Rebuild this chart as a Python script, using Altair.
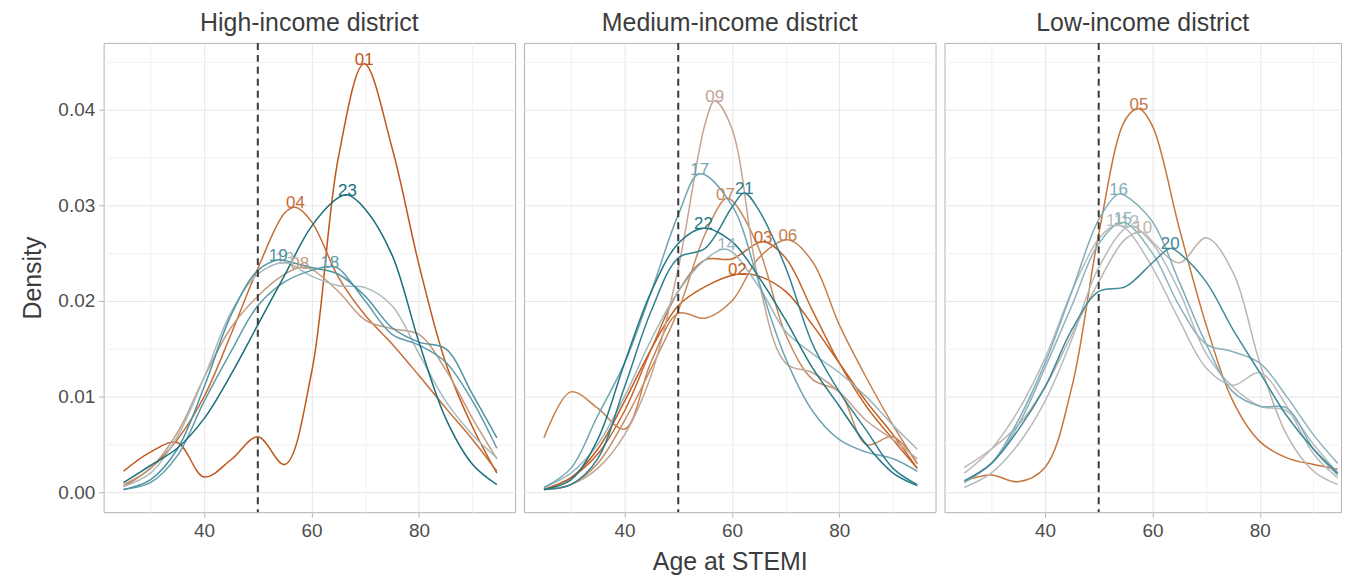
import altair as alt
import pandas as pd

FONT = "Liberation Sans"

# ---------------- data ----------------
AGES = [25, 30, 35, 40, 45, 50, 55, 60, 65, 70, 75, 80, 85, 90, 94.5]

GROUPS = ["High-income district", "Medium-income district", "Low-income district"]
HIGH = ["01", "04", "08", "13", "18", "19", "23"]
MEDIUM = ["02", "03", "06", "07", "09", "14", "17", "21", "22"]
LOW = ["05", "10", "11", "12", "15", "16", "20"]

DISTRICTS = ["01", "02", "03", "04", "05", "06", "07", "08", "09", "10", "11", "12",
             "13", "14", "15", "16", "17", "18", "19", "20", "21", "22", "23"]

# density at each age in AGES
D01 = [0.0022, 0.0042, 0.0052, 0.0016, 0.0034, 0.0058, 0.0029, 0.0125, 0.0350, 0.0448, 0.0360, 0.0238, 0.0135, 0.0068, 0.0020]
D02 = [0.0003, 0.0015, 0.0045, 0.0095, 0.0150, 0.0195, 0.0215, 0.0227, 0.0226, 0.0210, 0.0175, 0.0135, 0.0095, 0.0060, 0.0025]
D03 = [0.0003, 0.0015, 0.0040, 0.0085, 0.0150, 0.0210, 0.0243, 0.0244, 0.0258, 0.0245, 0.0190, 0.0135, 0.0090, 0.0055, 0.0025]
D04 = [0.0006, 0.0025, 0.0055, 0.0100, 0.0165, 0.0234, 0.0292, 0.0283, 0.0225, 0.0185, 0.0155, 0.0122, 0.0088, 0.0055, 0.0022]
D05 = [0.0012, 0.0018, 0.0011, 0.0026, 0.0110, 0.0270, 0.0390, 0.0383, 0.0276, 0.0175, 0.0095, 0.0053, 0.0036, 0.0029, 0.0024]
D06 = [0.0057, 0.0105, 0.0088, 0.0066, 0.0137, 0.0187, 0.0182, 0.0200, 0.0245, 0.0262, 0.0241, 0.0175, 0.0120, 0.0070, 0.0030]
D07 = [0.0003, 0.0008, 0.0030, 0.0075, 0.0130, 0.0190, 0.0270, 0.0305, 0.0255, 0.0165, 0.0118, 0.0105, 0.0050, 0.0058, 0.0030]
D08 = [0.0008, 0.0025, 0.0062, 0.0120, 0.0172, 0.0205, 0.0228, 0.0233, 0.0210, 0.0180, 0.0171, 0.0165, 0.0128, 0.0077, 0.0035]
D09 = [0.0003, 0.0008, 0.0025, 0.0060, 0.0123, 0.0234, 0.0385, 0.0380, 0.0220, 0.0135, 0.0125, 0.0105, 0.0075, 0.0055, 0.0035]
D10 = [0.0026, 0.0045, 0.0070, 0.0110, 0.0165, 0.0220, 0.0265, 0.0262, 0.0240, 0.0266, 0.0230, 0.0135, 0.0060, 0.0022, 0.0008]
D11 = [0.0020, 0.0045, 0.0085, 0.0140, 0.0210, 0.0265, 0.0276, 0.0235, 0.0180, 0.0130, 0.0112, 0.0125, 0.0090, 0.0040, 0.0015]
D12 = [0.0005, 0.0020, 0.0050, 0.0095, 0.0160, 0.0235, 0.0276, 0.0260, 0.0210, 0.0145, 0.0110, 0.0090, 0.0085, 0.0050, 0.0020]
D13 = [0.0006, 0.0020, 0.0058, 0.0120, 0.0188, 0.0228, 0.0240, 0.0226, 0.0216, 0.0214, 0.0195, 0.0145, 0.0095, 0.0060, 0.0036]
D14 = [0.0005, 0.0020, 0.0050, 0.0100, 0.0160, 0.0210, 0.0243, 0.0255, 0.0215, 0.0168, 0.0145, 0.0125, 0.0100, 0.0070, 0.0045]
D15 = [0.0010, 0.0030, 0.0070, 0.0130, 0.0195, 0.0260, 0.0280, 0.0250, 0.0195, 0.0155, 0.0147, 0.0135, 0.0100, 0.0060, 0.0030]
D16 = [0.0012, 0.0030, 0.0075, 0.0135, 0.0210, 0.0285, 0.0310, 0.0283, 0.0220, 0.0155, 0.0105, 0.0090, 0.0088, 0.0045, 0.0018]
D17 = [0.0005, 0.0025, 0.0080, 0.0135, 0.0210, 0.0290, 0.0332, 0.0300, 0.0220, 0.0140, 0.0085, 0.0055, 0.0042, 0.0035, 0.0022]
D18 = [0.0003, 0.0010, 0.0038, 0.0095, 0.0147, 0.0195, 0.0220, 0.0232, 0.0234, 0.0200, 0.0165, 0.0154, 0.0136, 0.0095, 0.0046]
D19 = [0.0003, 0.0013, 0.0045, 0.0110, 0.0185, 0.0232, 0.0242, 0.0235, 0.0228, 0.0205, 0.0172, 0.0157, 0.0150, 0.0102, 0.0057]
D20 = [0.0012, 0.0030, 0.0065, 0.0110, 0.0170, 0.0210, 0.0215, 0.0240, 0.0250, 0.0220, 0.0170, 0.0125, 0.0080, 0.0045, 0.0020]
D21 = [0.0003, 0.0008, 0.0035, 0.0110, 0.0190, 0.0245, 0.0255, 0.0298, 0.0295, 0.0235, 0.0155, 0.0105, 0.0065, 0.0025, 0.0008]
D22 = [0.0003, 0.0013, 0.0055, 0.0135, 0.0210, 0.0260, 0.0275, 0.0262, 0.0225, 0.0180, 0.0130, 0.0090, 0.0050, 0.0020, 0.0007]
D23 = [0.0010, 0.0028, 0.0046, 0.0077, 0.0123, 0.0175, 0.0227, 0.0278, 0.0308, 0.0296, 0.0248, 0.0157, 0.0077, 0.0029, 0.0008]

# peak of each curve (where the label sits), in DISTRICTS order
PEAK_AGE = [69.8, 61.0, 65.8, 57.0, 57.5, 70.4, 58.8, 57.8, 56.8, 58.2, 53.0, 55.8,
            55.0, 59.0, 54.5, 53.7, 54.0, 63.4, 53.8, 63.3, 62.3, 54.7, 66.7]
PEAK_DEN = [0.0448, 0.0228, 0.0262, 0.0298, 0.0401, 0.0264, 0.0307, 0.0235, 0.0409, 0.0272, 0.0279, 0.0278,
            0.0240, 0.0254, 0.0282, 0.0312, 0.0333, 0.0236, 0.0243, 0.0255, 0.0313, 0.0276, 0.0311]

VLINE = [50]

X_TICKS = [30, 40, 50, 60, 70, 80, 90]
Y_TICKS = [0, 0.005, 0.01, 0.015, 0.02, 0.025, 0.03, 0.035, 0.04, 0.045]

# ---------------- style ----------------
COLORS = ["#C0561A", "#C25D22", "#C4652B", "#C56D35", "#C6753F", "#C6804F", "#C58C62",
          "#C49A7F", "#C3A595", "#BFB3AE", "#BBBBBB", "#B4BCBE", "#A9BABF", "#9CB7BF",
          "#8EB2BC", "#80ADB9", "#6FA5B2", "#5F9CAA", "#4F93A2", "#3F8998", "#307F8E",
          "#237684", "#1A6D7B"]

DENS = {"01": D01, "02": D02, "03": D03, "04": D04, "05": D05, "06": D06, "07": D07,
        "08": D08, "09": D09, "10": D10, "11": D11, "12": D12, "13": D13, "14": D14,
        "15": D15, "16": D16, "17": D17, "18": D18, "19": D19, "20": D20, "21": D21,
        "22": D22, "23": D23}
GROUP_MEMBERS = {GROUPS[0]: HIGH, GROUPS[1]: MEDIUM, GROUPS[2]: LOW}

line_rows, peak_rows = [], []
for g, members in GROUP_MEMBERS.items():
    for d in members:
        i = DISTRICTS.index(d)
        pa, pdn = PEAK_AGE[i], PEAK_DEN[i]
        pts = [(a, v) for a, v in zip(AGES, DENS[d]) if abs(a - pa) > 1.2]
        pts.append((pa, pdn))
        pts.sort()
        for a, v in pts:
            line_rows.append({"group": g, "district": d, "age": a, "density": v})
        peak_rows.append({"group": g, "district": d, "age": pa, "density": pdn})
lines = pd.DataFrame(line_rows)
peaks = pd.DataFrame(peak_rows)
vline = pd.DataFrame({"age": VLINE})

LABEL_COLOR = "#4D4D4D"
X_MAJOR = "datum.value % 20 == 0"
Y_MAJOR = "abs(datum.value*100 - round(datum.value*100)) < 0.001"


def cond(test, a, b):
    return {"condition": {"test": test, "value": a}, "value": b}


def panel(group, idx):
    first = idx == 0
    middle = idx == 1
    width = 413 if idx < 2 else 398
    xmax = 97.9 if idx < 2 else 95.1
    xscale = alt.Scale(domain=[21.3, xmax], nice=False, zero=False)
    yscale = alt.Scale(domain=[-0.00208, 0.04698], nice=False, zero=False)

    xaxis = alt.Axis(
        values=X_TICKS, format="d",
        labelExpr=X_MAJOR + " ? datum.label : ''",
        grid=True, gridColor=cond(X_MAJOR, "#E6E6E6", "#F1F1F1"),
        gridWidth=1, domain=False,
        ticks=True, tickSize=5, tickColor=cond(X_MAJOR, "#B3B3B3", "transparent"),
        labelFontSize=19, labelPadding=4, labelColor=LABEL_COLOR, labelFont=FONT,
        title="Age at STEMI" if middle else None,
        titleFontSize=25, titleFontWeight="normal", titleColor="#3C3C3C", titleFont=FONT,
        titlePadding=10,
    )
    if first:
        yaxis = alt.Axis(
            values=Y_TICKS,
            labelExpr=Y_MAJOR + " ? format(datum.value, '.2f') : ''",
            grid=True, gridColor=cond(Y_MAJOR, "#E6E6E6", "#F1F1F1"),
            gridWidth=1, domain=False,
            ticks=True, tickSize=5, tickColor=cond(Y_MAJOR, "#B3B3B3", "transparent"),
            labelFontSize=19, labelPadding=4, labelColor=LABEL_COLOR, labelFont=FONT,
            title="Density", titleFontSize=25, titleFontWeight="normal",
            titleColor="#3C3C3C", titleFont=FONT, titlePadding=12,
        )
    else:
        yaxis = alt.Axis(
            values=Y_TICKS, labels=False, ticks=False, domain=False, title=None,
            grid=True, gridColor=cond(Y_MAJOR, "#E6E6E6", "#F1F1F1"), gridWidth=1,
        )

    color = alt.Color("district:N", scale=alt.Scale(domain=DISTRICTS, range=COLORS), legend=None)

    ln = alt.Chart(lines[lines.group == group]).mark_line(
        interpolate="catmull-rom", strokeWidth=1.5
    ).encode(
        x=alt.X("age:Q", scale=xscale, axis=xaxis),
        y=alt.Y("density:Q", scale=yscale, axis=yaxis),
        color=color,
        detail="district:N",
    )
    rule = alt.Chart(vline).mark_rule(
        strokeDash=[7, 5], strokeWidth=2, color="#3A3A3A"
    ).encode(x=alt.X("age:Q", scale=xscale))
    txt = alt.Chart(peaks[peaks.group == group]).mark_text(
        fontSize=17, font=FONT, baseline="alphabetic", align="center", dy=1
    ).encode(
        x=alt.X("age:Q", scale=xscale),
        y=alt.Y("density:Q", scale=yscale),
        text="district:N",
        color=color,
    )
    return alt.layer(ln, rule, txt).properties(
        width=width, height=471,
        title=alt.TitleParams(group, fontSize=25, font=FONT, color="#3C3C3C",
                              fontWeight="normal", anchor="middle", offset=6),
    )


chart = alt.hconcat(*[panel(g, i) for i, g in enumerate(GROUPS)], spacing=7).properties(
    padding={"left": 12, "top": 1, "right": 0, "bottom": 0},
    background="white",
).configure_view(stroke="#B3B3B3", strokeWidth=1)

chart.save("out.html", embed_options={"renderer": "svg", "actions": False})
